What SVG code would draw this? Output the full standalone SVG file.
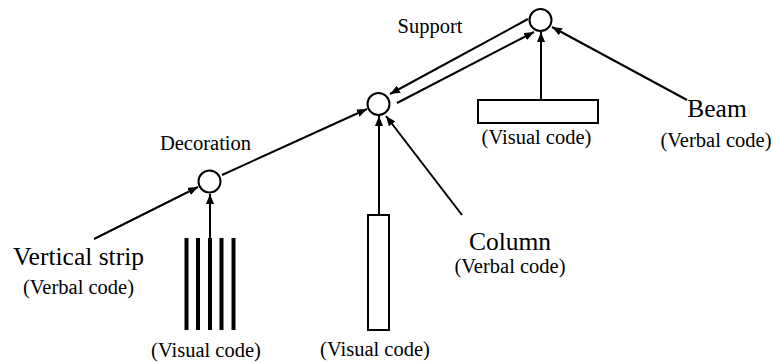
<svg xmlns="http://www.w3.org/2000/svg" width="774" height="363" viewBox="0 0 774 363">
  <style>
    .node { fill: #fff; stroke: #000; stroke-width: 2; }
    .edge { stroke: #000; stroke-width: 2; fill: none; marker-end: url(#arrow); }
    text { font-family: 'Liberation Serif', 'DejaVu Serif', serif; fill: #000; text-anchor: middle; }
    .sm { font-size: 20.5px; }
    .lg { font-size: 25.5px; }
    .strip { stroke: #000; stroke-width: 4; }
  </style>
  <defs>
    <marker id="arrow" markerUnits="userSpaceOnUse" markerWidth="10" markerHeight="8" refX="10" refY="4" orient="auto">
      <path d="M0,0 L10,4 L0,8 z" fill="#000"/>
    </marker>
  </defs>
  <rect width="774" height="363" fill="#fff"/>

  <!-- connectors -->
  <g id="connectors">
    <line class="edge" x1="210" y1="238" x2="210" y2="194"/>
    <line class="edge" x1="94" y1="239" x2="198" y2="187"/>
    <line class="edge" x1="222" y1="175" x2="367" y2="109"/>
    <line class="edge" x1="379" y1="215" x2="379" y2="116"/>
    <line class="edge" x1="462" y1="215" x2="386" y2="116"/>
    <line class="edge" x1="528" y1="19" x2="390" y2="94"/>
    <line class="edge" x1="397" y1="103" x2="534" y2="32"/>
    <line class="edge" x1="541" y1="100" x2="541" y2="32"/>
    <line class="edge" x1="687" y1="100" x2="552" y2="27"/>
  </g>

  <!-- junction: support -->
  <g id="support">
    <circle class="node" cx="540.5" cy="20" r="11"/>
    <text class="sm" x="430" y="33">Support</text>
  </g>

  <!-- junction: column + strip combination -->
  <g id="middle">
    <circle class="node" cx="378.5" cy="104" r="11"/>
  </g>

  <!-- junction: decoration -->
  <g id="decoration">
    <circle class="node" cx="209.5" cy="181.5" r="11"/>
    <text class="sm" x="205.5" y="150">Decoration</text>
  </g>

  <!-- beam visual code -->
  <g id="beam-visual">
    <rect class="node" x="478" y="100" width="120" height="23"/>
    <text class="sm" x="536.5" y="144">(Visual code)</text>
  </g>

  <!-- beam verbal code -->
  <g id="beam-verbal">
    <text class="lg" x="717" y="117">Beam</text>
    <text class="sm" x="716" y="147">(Verbal code)</text>
  </g>

  <!-- column visual code -->
  <g id="column-visual">
    <rect class="node" x="368" y="215" width="21" height="115"/>
    <text class="sm" x="375" y="356">(Visual code)</text>
  </g>

  <!-- column verbal code -->
  <g id="column-verbal">
    <text class="lg" x="510" y="250">Column</text>
    <text class="sm" x="510" y="273">(Verbal code)</text>
  </g>

  <!-- vertical strip visual code -->
  <g id="strip-visual">
    <line class="strip" x1="186.5" y1="238" x2="186.5" y2="330"/>
    <line class="strip" x1="198" y1="238" x2="198" y2="330"/>
    <line class="strip" x1="210" y1="238" x2="210" y2="330"/>
    <line class="strip" x1="221.5" y1="238" x2="221.5" y2="330"/>
    <line class="strip" x1="233.5" y1="238" x2="233.5" y2="330"/>
    <text class="sm" x="206" y="357">(Visual code)</text>
  </g>

  <!-- vertical strip verbal code -->
  <g id="strip-verbal">
    <text class="lg" x="78.5" y="265">Vertical strip</text>
    <text class="sm" x="78.5" y="294">(Verbal code)</text>
  </g>
</svg>
